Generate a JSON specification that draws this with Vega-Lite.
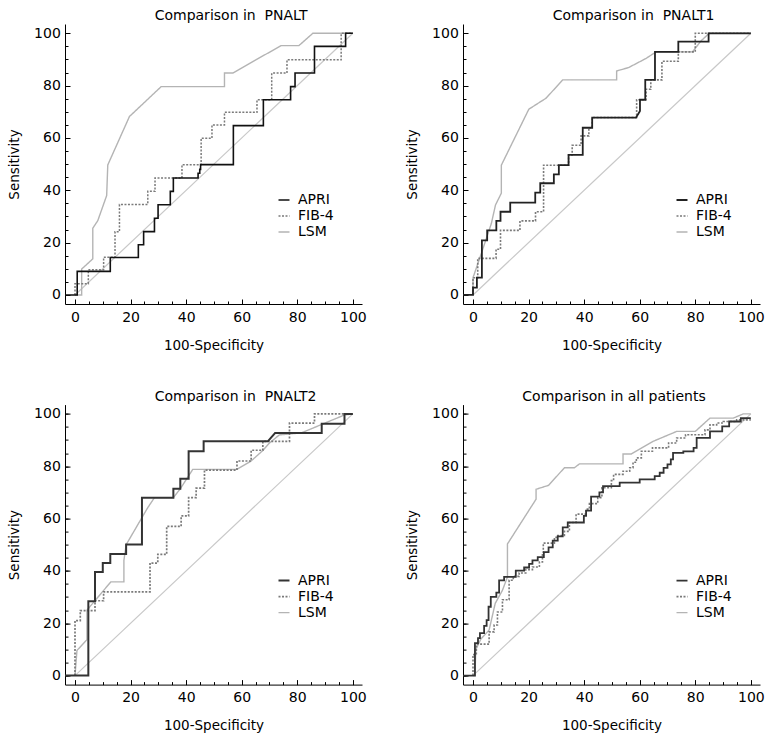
{
  "$schema": "https://vega.github.io/schema/vega-lite/v6.json",
  "background": "white",
  "padding": {"left": 7, "top": 9, "right": 5, "bottom": 5},
  "bounds": "flush",
  "columns": 2,
  "spacing": {"row": 100.6, "column": 101},
  "datasets": {
    "diag": [{"x": 0, "y": 0}, {"x": 100, "y": 100}],
    "pnalt": [
      {"t":"LSM","x":0,"y":0},{"t":"LSM","x":2.4,"y":0},{"t":"LSM","x":2.4,"y":9.9},{"t":"LSM","x":6.4,"y":13.8},{"t":"LSM","x":6.4,"y":25.5},{"t":"LSM","x":8.2,"y":28.4},{"t":"LSM","x":11.4,"y":38},{"t":"LSM","x":11.8,"y":49.7},{"t":"LSM","x":19.6,"y":68.2},{"t":"LSM","x":31,"y":79.6},{"t":"LSM","x":53.8,"y":79.6},{"t":"LSM","x":53.8,"y":84.8},{"t":"LSM","x":56.8,"y":84.8},{"t":"LSM","x":65.2,"y":89.9},{"t":"LSM","x":74.2,"y":95.3},{"t":"LSM","x":80.6,"y":95.3},{"t":"LSM","x":85.6,"y":100},{"t":"LSM","x":100,"y":100},
      {"t":"FIB-4","x":0,"y":0},{"t":"FIB-4","x":0,"y":4.3},{"t":"FIB-4","x":4.8,"y":4.3},{"t":"FIB-4","x":4.8,"y":9.6},{"t":"FIB-4","x":10.3,"y":9.6},{"t":"FIB-4","x":10.3,"y":14.4},{"t":"FIB-4","x":14.4,"y":14.4},{"t":"FIB-4","x":14.4,"y":24.2},{"t":"FIB-4","x":16,"y":24.2},{"t":"FIB-4","x":16,"y":34.6},{"t":"FIB-4","x":26.2,"y":34.6},{"t":"FIB-4","x":26.2,"y":39.6},{"t":"FIB-4","x":28.8,"y":39.6},{"t":"FIB-4","x":28.8,"y":44.7},{"t":"FIB-4","x":38.5,"y":44.7},{"t":"FIB-4","x":38.5,"y":49.8},{"t":"FIB-4","x":45.4,"y":49.8},{"t":"FIB-4","x":45.4,"y":59.9},{"t":"FIB-4","x":49.3,"y":59.9},{"t":"FIB-4","x":49.3,"y":65},{"t":"FIB-4","x":53.8,"y":65},{"t":"FIB-4","x":53.8,"y":69.8},{"t":"FIB-4","x":65.5,"y":69.8},{"t":"FIB-4","x":65.5,"y":74.6},{"t":"FIB-4","x":70.8,"y":74.6},{"t":"FIB-4","x":70.8,"y":84.8},{"t":"FIB-4","x":76.3,"y":84.8},{"t":"FIB-4","x":76.3,"y":89.9},{"t":"FIB-4","x":95.8,"y":89.9},{"t":"FIB-4","x":95.8,"y":100},{"t":"FIB-4","x":100,"y":100},
      {"t":"APRI","x":-3.6,"y":0},{"t":"APRI","x":0.8,"y":0},{"t":"APRI","x":0.8,"y":9},{"t":"APRI","x":12.7,"y":9},{"t":"APRI","x":12.7,"y":14.3},{"t":"APRI","x":22.8,"y":14.3},{"t":"APRI","x":22.8,"y":19.2},{"t":"APRI","x":24.7,"y":19.2},{"t":"APRI","x":24.7,"y":24.2},{"t":"APRI","x":28.6,"y":24.2},{"t":"APRI","x":28.6,"y":29.3},{"t":"APRI","x":29.9,"y":29.3},{"t":"APRI","x":29.9,"y":34.5},{"t":"APRI","x":34.3,"y":34.5},{"t":"APRI","x":34.3,"y":39.6},{"t":"APRI","x":35.4,"y":39.6},{"t":"APRI","x":35.4,"y":44.7},{"t":"APRI","x":44.3,"y":44.7},{"t":"APRI","x":44.3,"y":46.5},{"t":"APRI","x":44.9,"y":46.5},{"t":"APRI","x":44.9,"y":48},{"t":"APRI","x":45.2,"y":48},{"t":"APRI","x":45.2,"y":49.8},{"t":"APRI","x":57,"y":49.8},{"t":"APRI","x":57,"y":64.7},{"t":"APRI","x":67.8,"y":64.7},{"t":"APRI","x":67.8,"y":74.6},{"t":"APRI","x":77.6,"y":74.6},{"t":"APRI","x":77.6,"y":79.6},{"t":"APRI","x":79.2,"y":79.6},{"t":"APRI","x":79.2,"y":84.8},{"t":"APRI","x":86.2,"y":84.8},{"t":"APRI","x":86.2,"y":95},{"t":"APRI","x":97.4,"y":95},{"t":"APRI","x":97.4,"y":100},{"t":"APRI","x":100,"y":100}
    ],
    "pnalt1": [
      {"t":"LSM","x":0,"y":0},{"t":"LSM","x":0,"y":6.6},{"t":"LSM","x":2.5,"y":14.3},{"t":"LSM","x":6.6,"y":27.3},{"t":"LSM","x":8.1,"y":34.4},{"t":"LSM","x":10.2,"y":38.9},{"t":"LSM","x":10.2,"y":49.6},{"t":"LSM","x":20.1,"y":71},{"t":"LSM","x":26.3,"y":75.2},{"t":"LSM","x":32.3,"y":82.2},{"t":"LSM","x":51.7,"y":82.2},{"t":"LSM","x":51.7,"y":85.6},{"t":"LSM","x":56,"y":86.9},{"t":"LSM","x":62.3,"y":90.4},{"t":"LSM","x":65.9,"y":92.9},{"t":"LSM","x":79,"y":92.9},{"t":"LSM","x":82,"y":97},{"t":"LSM","x":85,"y":100},{"t":"LSM","x":100,"y":100},
      {"t":"FIB-4","x":0,"y":0},{"t":"FIB-4","x":0,"y":6.6},{"t":"FIB-4","x":1.7,"y":6.6},{"t":"FIB-4","x":1.7,"y":14},{"t":"FIB-4","x":8.3,"y":14},{"t":"FIB-4","x":8.3,"y":17.5},{"t":"FIB-4","x":9.9,"y":17.5},{"t":"FIB-4","x":9.9,"y":24.7},{"t":"FIB-4","x":16.9,"y":24.7},{"t":"FIB-4","x":16.9,"y":28.3},{"t":"FIB-4","x":22.5,"y":28.3},{"t":"FIB-4","x":22.5,"y":31.8},{"t":"FIB-4","x":25.4,"y":31.8},{"t":"FIB-4","x":25.4,"y":49.6},{"t":"FIB-4","x":34.4,"y":49.6},{"t":"FIB-4","x":34.4,"y":53.5},{"t":"FIB-4","x":35.7,"y":53.5},{"t":"FIB-4","x":35.7,"y":57.2},{"t":"FIB-4","x":38.9,"y":57.2},{"t":"FIB-4","x":38.9,"y":60.8},{"t":"FIB-4","x":41.7,"y":60.8},{"t":"FIB-4","x":41.7,"y":63.9},{"t":"FIB-4","x":42.9,"y":63.9},{"t":"FIB-4","x":42.9,"y":67.8},{"t":"FIB-4","x":58.9,"y":67.8},{"t":"FIB-4","x":58.9,"y":74.6},{"t":"FIB-4","x":62.3,"y":74.6},{"t":"FIB-4","x":62.3,"y":78.6},{"t":"FIB-4","x":64,"y":78.6},{"t":"FIB-4","x":64,"y":82.2},{"t":"FIB-4","x":68,"y":82.2},{"t":"FIB-4","x":68,"y":89.3},{"t":"FIB-4","x":73.9,"y":89.3},{"t":"FIB-4","x":73.9,"y":92.9},{"t":"FIB-4","x":80,"y":92.9},{"t":"FIB-4","x":80,"y":100},{"t":"FIB-4","x":100,"y":100},
      {"t":"APRI","x":-3.6,"y":0},{"t":"APRI","x":0,"y":0},{"t":"APRI","x":0,"y":2.8},{"t":"APRI","x":1.4,"y":2.8},{"t":"APRI","x":1.4,"y":6.6},{"t":"APRI","x":3.2,"y":6.6},{"t":"APRI","x":3.2,"y":20.9},{"t":"APRI","x":5.1,"y":20.9},{"t":"APRI","x":5.1,"y":24.7},{"t":"APRI","x":8.4,"y":24.7},{"t":"APRI","x":8.4,"y":28.3},{"t":"APRI","x":9.9,"y":28.3},{"t":"APRI","x":9.9,"y":31.8},{"t":"APRI","x":13.4,"y":31.8},{"t":"APRI","x":13.4,"y":35.3},{"t":"APRI","x":22.4,"y":35.3},{"t":"APRI","x":22.4,"y":39.1},{"t":"APRI","x":24.2,"y":39.1},{"t":"APRI","x":24.2,"y":42.7},{"t":"APRI","x":29.1,"y":42.7},{"t":"APRI","x":29.1,"y":46.1},{"t":"APRI","x":30.9,"y":46.1},{"t":"APRI","x":30.9,"y":49.6},{"t":"APRI","x":34.4,"y":49.6},{"t":"APRI","x":34.4,"y":53.5},{"t":"APRI","x":39.5,"y":53.5},{"t":"APRI","x":39.5,"y":63.9},{"t":"APRI","x":42.9,"y":63.9},{"t":"APRI","x":42.9,"y":67.8},{"t":"APRI","x":58.7,"y":67.8},{"t":"APRI","x":60.1,"y":70.3},{"t":"APRI","x":60.1,"y":74.6},{"t":"APRI","x":62,"y":74.6},{"t":"APRI","x":62,"y":82.2},{"t":"APRI","x":65.5,"y":82.2},{"t":"APRI","x":65.5,"y":92.9},{"t":"APRI","x":73.9,"y":92.9},{"t":"APRI","x":73.9,"y":96.8},{"t":"APRI","x":84.8,"y":96.8},{"t":"APRI","x":84.8,"y":100},{"t":"APRI","x":100,"y":100}
    ],
    "pnalt2": [
      {"t":"LSM","x":0,"y":0},{"t":"LSM","x":0.7,"y":9.6},{"t":"LSM","x":4.3,"y":13.7},{"t":"LSM","x":4.3,"y":25},{"t":"LSM","x":12.9,"y":35.8},{"t":"LSM","x":17.6,"y":35.8},{"t":"LSM","x":17.6,"y":44},{"t":"LSM","x":18.4,"y":50},{"t":"LSM","x":26.2,"y":64.2},{"t":"LSM","x":28.6,"y":68},{"t":"LSM","x":35.4,"y":68},{"t":"LSM","x":37.9,"y":71.4},{"t":"LSM","x":42.4,"y":78.8},{"t":"LSM","x":58.3,"y":78.8},{"t":"LSM","x":63.4,"y":82},{"t":"LSM","x":67.6,"y":86},{"t":"LSM","x":70,"y":88.9},{"t":"LSM","x":73.6,"y":92},{"t":"LSM","x":81.4,"y":92.7},{"t":"LSM","x":97,"y":99.6},{"t":"LSM","x":100,"y":100},
      {"t":"FIB-4","x":0,"y":0},{"t":"FIB-4","x":0,"y":21},{"t":"FIB-4","x":1.9,"y":21},{"t":"FIB-4","x":1.9,"y":24.8},{"t":"FIB-4","x":7.2,"y":24.8},{"t":"FIB-4","x":7.2,"y":28.6},{"t":"FIB-4","x":10.3,"y":28.6},{"t":"FIB-4","x":10.3,"y":32},{"t":"FIB-4","x":27,"y":32},{"t":"FIB-4","x":27,"y":43},{"t":"FIB-4","x":29.8,"y":43},{"t":"FIB-4","x":29.8,"y":46.3},{"t":"FIB-4","x":33,"y":46.3},{"t":"FIB-4","x":33,"y":57},{"t":"FIB-4","x":38.2,"y":57},{"t":"FIB-4","x":38.2,"y":61},{"t":"FIB-4","x":40.9,"y":61},{"t":"FIB-4","x":40.9,"y":68},{"t":"FIB-4","x":43.6,"y":68},{"t":"FIB-4","x":43.6,"y":71.6},{"t":"FIB-4","x":46.6,"y":71.6},{"t":"FIB-4","x":46.6,"y":78.5},{"t":"FIB-4","x":58.3,"y":78.5},{"t":"FIB-4","x":58.3,"y":82},{"t":"FIB-4","x":63.4,"y":82},{"t":"FIB-4","x":63.4,"y":86.1},{"t":"FIB-4","x":67.6,"y":86.1},{"t":"FIB-4","x":67.6,"y":89.5},{"t":"FIB-4","x":77.2,"y":89.5},{"t":"FIB-4","x":77.2,"y":96.5},{"t":"FIB-4","x":86.2,"y":96.5},{"t":"FIB-4","x":86.2,"y":100},{"t":"FIB-4","x":100,"y":100},
      {"t":"APRI","x":-3.6,"y":0},{"t":"APRI","x":4.8,"y":0},{"t":"APRI","x":4.8,"y":28.4},{"t":"APRI","x":7.2,"y":28.4},{"t":"APRI","x":7.2,"y":39.6},{"t":"APRI","x":10,"y":39.6},{"t":"APRI","x":10,"y":43},{"t":"APRI","x":12.7,"y":43},{"t":"APRI","x":12.7,"y":46.5},{"t":"APRI","x":18.4,"y":46.5},{"t":"APRI","x":18.4,"y":50.1},{"t":"APRI","x":24.1,"y":50.1},{"t":"APRI","x":24.1,"y":68},{"t":"APRI","x":35.4,"y":68},{"t":"APRI","x":35.4,"y":71.4},{"t":"APRI","x":37.9,"y":71.4},{"t":"APRI","x":37.9,"y":75.2},{"t":"APRI","x":40.9,"y":75.2},{"t":"APRI","x":40.9,"y":85.7},{"t":"APRI","x":46.3,"y":85.7},{"t":"APRI","x":46.3,"y":89.5},{"t":"APRI","x":69.4,"y":89.5},{"t":"APRI","x":72,"y":92.7},{"t":"APRI","x":88.8,"y":92.7},{"t":"APRI","x":88.8,"y":96.2},{"t":"APRI","x":97,"y":96.2},{"t":"APRI","x":97,"y":100},{"t":"APRI","x":100,"y":100}
    ],
    "all": [
      {"t":"LSM","x":0,"y":0},{"t":"LSM","x":0.7,"y":0},{"t":"LSM","x":1,"y":9.9},{"t":"LSM","x":2.8,"y":13.9},{"t":"LSM","x":5.8,"y":17.4},{"t":"LSM","x":8,"y":27.6},{"t":"LSM","x":10.6,"y":32.6},{"t":"LSM","x":12.4,"y":37.7},{"t":"LSM","x":12.4,"y":50.3},{"t":"LSM","x":22.7,"y":67.4},{"t":"LSM","x":22.7,"y":71.2},{"t":"LSM","x":27.2,"y":72.7},{"t":"LSM","x":32.9,"y":79.4},{"t":"LSM","x":36.5,"y":79.4},{"t":"LSM","x":38.3,"y":80.9},{"t":"LSM","x":54,"y":80.9},{"t":"LSM","x":54,"y":84.7},{"t":"LSM","x":57,"y":84.7},{"t":"LSM","x":64.8,"y":89.5},{"t":"LSM","x":73.3,"y":93.3},{"t":"LSM","x":80,"y":93.3},{"t":"LSM","x":85.3,"y":98.4},{"t":"LSM","x":93.7,"y":98.4},{"t":"LSM","x":97.3,"y":100},{"t":"LSM","x":100,"y":100},
      {"t":"FIB-4","x":0,"y":0},{"t":"FIB-4","x":0,"y":8},{"t":"FIB-4","x":1.2,"y":8},{"t":"FIB-4","x":1.2,"y":12},{"t":"FIB-4","x":5.8,"y":12},{"t":"FIB-4","x":5.8,"y":16.7},{"t":"FIB-4","x":7.6,"y":16.7},{"t":"FIB-4","x":7.6,"y":19.3},{"t":"FIB-4","x":8.8,"y":19.3},{"t":"FIB-4","x":8.8,"y":24.3},{"t":"FIB-4","x":10.6,"y":24.3},{"t":"FIB-4","x":10.6,"y":29},{"t":"FIB-4","x":13,"y":29},{"t":"FIB-4","x":13,"y":36.4},{"t":"FIB-4","x":14.5,"y":36.4},{"t":"FIB-4","x":14.5,"y":37.9},{"t":"FIB-4","x":16.6,"y":37.9},{"t":"FIB-4","x":16.6,"y":39.2},{"t":"FIB-4","x":19,"y":39.2},{"t":"FIB-4","x":19,"y":40.5},{"t":"FIB-4","x":21.4,"y":40.5},{"t":"FIB-4","x":21.4,"y":41.5},{"t":"FIB-4","x":23.9,"y":41.5},{"t":"FIB-4","x":23.9,"y":43.4},{"t":"FIB-4","x":25,"y":43.4},{"t":"FIB-4","x":25,"y":46.8},{"t":"FIB-4","x":25.3,"y":46.8},{"t":"FIB-4","x":25.3,"y":50.6},{"t":"FIB-4","x":29.3,"y":50.6},{"t":"FIB-4","x":29.3,"y":52.8},{"t":"FIB-4","x":30.5,"y":52.8},{"t":"FIB-4","x":30.5,"y":53.5},{"t":"FIB-4","x":32.9,"y":53.5},{"t":"FIB-4","x":32.9,"y":55.1},{"t":"FIB-4","x":34.7,"y":55.1},{"t":"FIB-4","x":34.7,"y":58.5},{"t":"FIB-4","x":37.1,"y":58.5},{"t":"FIB-4","x":37.1,"y":61.7},{"t":"FIB-4","x":40.7,"y":61.7},{"t":"FIB-4","x":40.7,"y":63.6},{"t":"FIB-4","x":41.9,"y":63.6},{"t":"FIB-4","x":41.9,"y":65.7},{"t":"FIB-4","x":44.9,"y":65.7},{"t":"FIB-4","x":44.9,"y":68},{"t":"FIB-4","x":46.4,"y":68},{"t":"FIB-4","x":46.4,"y":71.8},{"t":"FIB-4","x":49.8,"y":71.8},{"t":"FIB-4","x":49.8,"y":74.5},{"t":"FIB-4","x":50.6,"y":74.5},{"t":"FIB-4","x":50.6,"y":76.9},{"t":"FIB-4","x":54,"y":76.9},{"t":"FIB-4","x":54,"y":78.1},{"t":"FIB-4","x":56.4,"y":78.1},{"t":"FIB-4","x":56.4,"y":79.4},{"t":"FIB-4","x":57.6,"y":79.4},{"t":"FIB-4","x":57.6,"y":81.5},{"t":"FIB-4","x":58.8,"y":81.5},{"t":"FIB-4","x":58.8,"y":83.2},{"t":"FIB-4","x":60.6,"y":83.2},{"t":"FIB-4","x":60.6,"y":85.7},{"t":"FIB-4","x":64.6,"y":85.7},{"t":"FIB-4","x":64.6,"y":87},{"t":"FIB-4","x":70.4,"y":87},{"t":"FIB-4","x":70.4,"y":88.9},{"t":"FIB-4","x":73.3,"y":88.9},{"t":"FIB-4","x":73.3,"y":90.8},{"t":"FIB-4","x":76.5,"y":90.8},{"t":"FIB-4","x":76.5,"y":92},{"t":"FIB-4","x":83.5,"y":92},{"t":"FIB-4","x":83.5,"y":93.9},{"t":"FIB-4","x":85.3,"y":93.9},{"t":"FIB-4","x":85.3,"y":95.8},{"t":"FIB-4","x":87.7,"y":95.8},{"t":"FIB-4","x":87.7,"y":96.5},{"t":"FIB-4","x":90.1,"y":96.5},{"t":"FIB-4","x":90.1,"y":97.1},{"t":"FIB-4","x":94.9,"y":97.1},{"t":"FIB-4","x":94.9,"y":97.7},{"t":"FIB-4","x":100,"y":97.7},
      {"t":"APRI","x":-3.6,"y":0},{"t":"APRI","x":0.7,"y":0},{"t":"APRI","x":0.7,"y":12.4},{"t":"APRI","x":1.8,"y":12.4},{"t":"APRI","x":1.8,"y":14.3},{"t":"APRI","x":2.5,"y":14.3},{"t":"APRI","x":2.5,"y":16.2},{"t":"APRI","x":4,"y":16.2},{"t":"APRI","x":4,"y":19},{"t":"APRI","x":4.9,"y":19},{"t":"APRI","x":4.9,"y":21.2},{"t":"APRI","x":5.6,"y":21.2},{"t":"APRI","x":5.6,"y":26.3},{"t":"APRI","x":6.4,"y":26.3},{"t":"APRI","x":6.4,"y":30.1},{"t":"APRI","x":8.4,"y":30.1},{"t":"APRI","x":8.4,"y":31.7},{"t":"APRI","x":9.4,"y":31.7},{"t":"APRI","x":9.4,"y":36.4},{"t":"APRI","x":11.2,"y":36.4},{"t":"APRI","x":11.2,"y":37.7},{"t":"APRI","x":15.4,"y":37.7},{"t":"APRI","x":15.4,"y":40.1},{"t":"APRI","x":18.4,"y":40.1},{"t":"APRI","x":18.4,"y":41.3},{"t":"APRI","x":20.2,"y":41.3},{"t":"APRI","x":20.2,"y":42.7},{"t":"APRI","x":21.4,"y":42.7},{"t":"APRI","x":21.4,"y":44},{"t":"APRI","x":23.3,"y":44},{"t":"APRI","x":23.3,"y":45.3},{"t":"APRI","x":25.5,"y":45.3},{"t":"APRI","x":25.5,"y":47.2},{"t":"APRI","x":27.2,"y":47.2},{"t":"APRI","x":27.2,"y":49},{"t":"APRI","x":28.7,"y":49},{"t":"APRI","x":28.7,"y":51.6},{"t":"APRI","x":30.5,"y":51.6},{"t":"APRI","x":30.5,"y":53.2},{"t":"APRI","x":32.3,"y":53.2},{"t":"APRI","x":32.3,"y":56.6},{"t":"APRI","x":34.1,"y":56.6},{"t":"APRI","x":34.1,"y":58.5},{"t":"APRI","x":39.9,"y":58.5},{"t":"APRI","x":39.9,"y":61},{"t":"APRI","x":40.7,"y":61},{"t":"APRI","x":40.7,"y":63},{"t":"APRI","x":42.5,"y":63},{"t":"APRI","x":42.5,"y":68.4},{"t":"APRI","x":45.5,"y":68.4},{"t":"APRI","x":45.5,"y":70},{"t":"APRI","x":46.8,"y":70},{"t":"APRI","x":46.8,"y":72.4},{"t":"APRI","x":52.8,"y":72.4},{"t":"APRI","x":52.8,"y":73.7},{"t":"APRI","x":60,"y":73.7},{"t":"APRI","x":60,"y":75},{"t":"APRI","x":65.4,"y":75},{"t":"APRI","x":65.4,"y":76.2},{"t":"APRI","x":67.2,"y":76.2},{"t":"APRI","x":67.2,"y":77.5},{"t":"APRI","x":68.6,"y":77.5},{"t":"APRI","x":68.6,"y":79.4},{"t":"APRI","x":70,"y":79.4},{"t":"APRI","x":70,"y":80.7},{"t":"APRI","x":71.2,"y":80.7},{"t":"APRI","x":71.2,"y":82.6},{"t":"APRI","x":72,"y":82.6},{"t":"APRI","x":72,"y":85.1},{"t":"APRI","x":75.7,"y":85.1},{"t":"APRI","x":75.7,"y":85.7},{"t":"APRI","x":79.4,"y":85.7},{"t":"APRI","x":79.4,"y":87},{"t":"APRI","x":80.5,"y":87},{"t":"APRI","x":80.5,"y":90.8},{"t":"APRI","x":85.3,"y":90.8},{"t":"APRI","x":85.3,"y":93.3},{"t":"APRI","x":89.7,"y":93.3},{"t":"APRI","x":89.7,"y":95.2},{"t":"APRI","x":92.2,"y":95.2},{"t":"APRI","x":92.2,"y":97.1},{"t":"APRI","x":96.4,"y":97.1},{"t":"APRI","x":96.4,"y":98.4},{"t":"APRI","x":100,"y":98.4}
    ]
  },
  "resolve": {
    "scale": {"color": "independent", "strokeDash": "independent", "strokeWidth": "independent"},
    "legend": {"color": "independent", "strokeDash": "independent", "strokeWidth": "independent"}
  },
  "concat": [
    {
      "title": {"text": "Comparison in \u00a0PNALT", "dx": 17.6},
      "width": 297, "height": 280,
      "resolve": {"axis": {"x": "independent", "y": "independent"}},
      "layer": [
        {
          "data": {"name": "diag"},
          "mark": {"type": "line", "color": "#c8c8c8", "strokeWidth": 1.2},
          "encoding": {
            "x": {"field": "x", "type": "quantitative", "scale": {"domain": [-3.6, 103.3], "nice": false, "zero": false}, "axis": {"orient": "bottom", "values": [0,5,10,15,20,25,30,35,40,45,50,55,60,65,70,75,80,85,90,95,100], "tickSize": -3, "labels": false, "domain": false, "title": null}},
            "y": {"field": "y", "type": "quantitative", "scale": {"domain": [-3.45, 103.55], "nice": false, "zero": false}, "axis": {"orient": "left", "values": [0,5,10,15,20,25,30,35,40,45,50,55,60,65,70,75,80,85,90,95,100], "tickSize": -3, "labels": false, "domain": false, "title": null}}
          }
        },
        {
          "data": {"name": "pnalt"},
          "transform": [{"window": [{"op": "row_number", "as": "i"}], "groupby": ["t"]}],
          "mark": {"type": "line"},
          "encoding": {
            "x": {"field": "x", "type": "quantitative", "scale": {"domain": [-3.6, 103.3], "nice": false, "zero": false}, "axis": {"orient": "bottom", "values": [0,20,40,60,80,100], "tickSize": -5, "labelPadding": 11, "title": "100-Specificity", "titlePadding": 14}},
            "y": {"field": "y", "type": "quantitative", "scale": {"domain": [-3.45, 103.55], "nice": false, "zero": false}, "axis": {"orient": "left", "values": [0,20,40,60,80,100], "tickSize": -5, "labelPadding": 9.7, "title": "Sensitivity", "titlePadding": 12}},
            "order": {"field": "i", "type": "quantitative"},
            "color": {"field": "t", "type": "nominal", "scale": {"domain": ["APRI","FIB-4","LSM"], "range": ["#111111","#7a7a7a","#b4b4b4"]}, "legend": {"orient": "none", "legendX": 212, "legendY": 169, "title": null}},
            "strokeDash": {"field": "t", "type": "nominal", "scale": {"domain": ["APRI","FIB-4","LSM"], "range": [[1,0],[2,1.5],[1,0]]}, "legend": {"orient": "none", "legendX": 212, "legendY": 169, "title": null}},
            "strokeWidth": {"field": "t", "type": "nominal", "scale": {"domain": ["APRI","FIB-4","LSM"], "range": [1.6,1.4,1]}, "legend": {"orient": "none", "legendX": 212, "legendY": 169, "title": null}}
          }
        }
      ]
    },
    {
      "title": {"text": "Comparison in \u00a0PNALT1", "dx": 22.1},
      "width": 297, "height": 280,
      "resolve": {"axis": {"x": "independent", "y": "independent"}},
      "layer": [
        {
          "data": {"name": "diag"},
          "mark": {"type": "line", "color": "#c8c8c8", "strokeWidth": 1.2},
          "encoding": {
            "x": {"field": "x", "type": "quantitative", "scale": {"domain": [-3.6, 103.3], "nice": false, "zero": false}, "axis": {"orient": "bottom", "values": [0,5,10,15,20,25,30,35,40,45,50,55,60,65,70,75,80,85,90,95,100], "tickSize": -3, "labels": false, "domain": false, "title": null}},
            "y": {"field": "y", "type": "quantitative", "scale": {"domain": [-3.45, 103.55], "nice": false, "zero": false}, "axis": {"orient": "left", "values": [0,5,10,15,20,25,30,35,40,45,50,55,60,65,70,75,80,85,90,95,100], "tickSize": -3, "labels": false, "domain": false, "title": null}}
          }
        },
        {
          "data": {"name": "pnalt1"},
          "transform": [{"window": [{"op": "row_number", "as": "i"}], "groupby": ["t"]}],
          "mark": {"type": "line"},
          "encoding": {
            "x": {"field": "x", "type": "quantitative", "scale": {"domain": [-3.6, 103.3], "nice": false, "zero": false}, "axis": {"orient": "bottom", "values": [0,20,40,60,80,100], "tickSize": -5, "labelPadding": 11, "title": "100-Specificity", "titlePadding": 14}},
            "y": {"field": "y", "type": "quantitative", "scale": {"domain": [-3.45, 103.55], "nice": false, "zero": false}, "axis": {"orient": "left", "values": [0,20,40,60,80,100], "tickSize": -5, "labelPadding": 9.7, "title": "Sensitivity", "titlePadding": 12}},
            "order": {"field": "i", "type": "quantitative"},
            "color": {"field": "t", "type": "nominal", "scale": {"domain": ["APRI","FIB-4","LSM"], "range": ["#222222","#7a7a7a","#b4b4b4"]}, "legend": {"orient": "none", "legendX": 212, "legendY": 169, "title": null}},
            "strokeDash": {"field": "t", "type": "nominal", "scale": {"domain": ["APRI","FIB-4","LSM"], "range": [[1,0],[2,1.5],[1,0]]}, "legend": {"orient": "none", "legendX": 212, "legendY": 169, "title": null}},
            "strokeWidth": {"field": "t", "type": "nominal", "scale": {"domain": ["APRI","FIB-4","LSM"], "range": [1.8,1.4,1]}, "legend": {"orient": "none", "legendX": 212, "legendY": 169, "title": null}}
          }
        }
      ]
    },
    {
      "title": {"text": "Comparison in \u00a0PNALT2", "dx": 22.1},
      "width": 297, "height": 280,
      "resolve": {"axis": {"x": "independent", "y": "independent"}},
      "layer": [
        {
          "data": {"name": "diag"},
          "mark": {"type": "line", "color": "#c8c8c8", "strokeWidth": 1.2},
          "encoding": {
            "x": {"field": "x", "type": "quantitative", "scale": {"domain": [-3.6, 103.3], "nice": false, "zero": false}, "axis": {"orient": "bottom", "values": [0,5,10,15,20,25,30,35,40,45,50,55,60,65,70,75,80,85,90,95,100], "tickSize": -3, "labels": false, "domain": false, "title": null}},
            "y": {"field": "y", "type": "quantitative", "scale": {"domain": [-3.45, 103.55], "nice": false, "zero": false}, "axis": {"orient": "left", "values": [0,5,10,15,20,25,30,35,40,45,50,55,60,65,70,75,80,85,90,95,100], "tickSize": -3, "labels": false, "domain": false, "title": null}}
          }
        },
        {
          "data": {"name": "pnalt2"},
          "transform": [{"window": [{"op": "row_number", "as": "i"}], "groupby": ["t"]}],
          "mark": {"type": "line"},
          "encoding": {
            "x": {"field": "x", "type": "quantitative", "scale": {"domain": [-3.6, 103.3], "nice": false, "zero": false}, "axis": {"orient": "bottom", "values": [0,20,40,60,80,100], "tickSize": -5, "labelPadding": 11, "title": "100-Specificity", "titlePadding": 14}},
            "y": {"field": "y", "type": "quantitative", "scale": {"domain": [-3.45, 103.55], "nice": false, "zero": false}, "axis": {"orient": "left", "values": [0,20,40,60,80,100], "tickSize": -5, "labelPadding": 9.7, "title": "Sensitivity", "titlePadding": 12}},
            "order": {"field": "i", "type": "quantitative"},
            "color": {"field": "t", "type": "nominal", "scale": {"domain": ["APRI","FIB-4","LSM"], "range": ["#333333","#7a7a7a","#b4b4b4"]}, "legend": {"orient": "none", "legendX": 212, "legendY": 169, "title": null}},
            "strokeDash": {"field": "t", "type": "nominal", "scale": {"domain": ["APRI","FIB-4","LSM"], "range": [[1,0],[2,1.5],[1,0]]}, "legend": {"orient": "none", "legendX": 212, "legendY": 169, "title": null}},
            "strokeWidth": {"field": "t", "type": "nominal", "scale": {"domain": ["APRI","FIB-4","LSM"], "range": [2,1.4,1]}, "legend": {"orient": "none", "legendX": 212, "legendY": 169, "title": null}}
          }
        }
      ]
    },
    {
      "title": {"text": "Comparison in all patients", "dx": 2.5},
      "width": 297, "height": 280,
      "resolve": {"axis": {"x": "independent", "y": "independent"}},
      "layer": [
        {
          "data": {"name": "diag"},
          "mark": {"type": "line", "color": "#c8c8c8", "strokeWidth": 1.2},
          "encoding": {
            "x": {"field": "x", "type": "quantitative", "scale": {"domain": [-3.6, 103.3], "nice": false, "zero": false}, "axis": {"orient": "bottom", "values": [0,5,10,15,20,25,30,35,40,45,50,55,60,65,70,75,80,85,90,95,100], "tickSize": -3, "labels": false, "domain": false, "title": null}},
            "y": {"field": "y", "type": "quantitative", "scale": {"domain": [-3.45, 103.55], "nice": false, "zero": false}, "axis": {"orient": "left", "values": [0,5,10,15,20,25,30,35,40,45,50,55,60,65,70,75,80,85,90,95,100], "tickSize": -3, "labels": false, "domain": false, "title": null}}
          }
        },
        {
          "data": {"name": "all"},
          "transform": [{"window": [{"op": "row_number", "as": "i"}], "groupby": ["t"]}],
          "mark": {"type": "line"},
          "encoding": {
            "x": {"field": "x", "type": "quantitative", "scale": {"domain": [-3.6, 103.3], "nice": false, "zero": false}, "axis": {"orient": "bottom", "values": [0,20,40,60,80,100], "tickSize": -5, "labelPadding": 11, "title": "100-Specificity", "titlePadding": 14}},
            "y": {"field": "y", "type": "quantitative", "scale": {"domain": [-3.45, 103.55], "nice": false, "zero": false}, "axis": {"orient": "left", "values": [0,20,40,60,80,100], "tickSize": -5, "labelPadding": 9.7, "title": "Sensitivity", "titlePadding": 12}},
            "order": {"field": "i", "type": "quantitative"},
            "color": {"field": "t", "type": "nominal", "scale": {"domain": ["APRI","FIB-4","LSM"], "range": ["#333333","#7a7a7a","#b4b4b4"]}, "legend": {"orient": "none", "legendX": 212, "legendY": 169, "title": null}},
            "strokeDash": {"field": "t", "type": "nominal", "scale": {"domain": ["APRI","FIB-4","LSM"], "range": [[1,0],[2,1.5],[1,0]]}, "legend": {"orient": "none", "legendX": 212, "legendY": 169, "title": null}},
            "strokeWidth": {"field": "t", "type": "nominal", "scale": {"domain": ["APRI","FIB-4","LSM"], "range": [1.8,1.4,1]}, "legend": {"orient": "none", "legendX": 212, "legendY": 169, "title": null}}
          }
        }
      ]
    }
  ],
  "config": {
    "font": "DejaVu Sans",
    "view": {"stroke": null},
    "axis": {
      "grid": false, "domainColor": "#000000", "domainWidth": 1, "tickColor": "#000000", "tickWidth": 1,
      "labelColor": "#000000", "labelFont": "DejaVu Sans", "labelFontSize": 14, "labelFlush": false, "labelOverlap": false,
      "titleColor": "#000000", "titleFont": "DejaVu Sans", "titleFontSize": 13.5, "titleFontWeight": "normal"
    },
    "legend": {
      "padding": 0, "symbolType": "stroke", "symbolSize": 121, "labelFont": "DejaVu Sans", "labelFontSize": 14,
      "labelColor": "#000000", "labelOffset": 7, "rowPadding": 2
    },
    "title": {"font": "DejaVu Sans", "fontSize": 14, "fontWeight": "normal", "color": "#000000", "anchor": "middle", "frame": "group", "baseline": "alphabetic", "offset": 1}
  }
}
